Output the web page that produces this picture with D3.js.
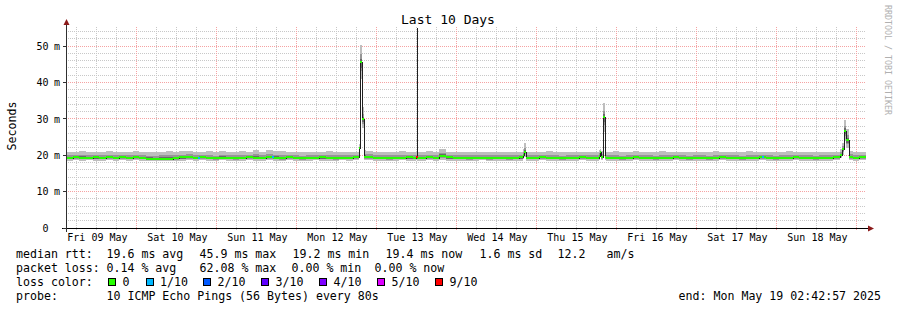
<!DOCTYPE html>
<html lang="en">
<head>
<meta charset="UTF-8">
<title>Last 10 Days</title>
<script src="https://d3js.org/d3.v7.min.js"></script>
<style>
  body { margin: 0; background: #fff; }
  svg { display: block; font-family: "DejaVu Sans Mono", monospace; }
</style>
</head>
<body>
<svg id="chart" width="897" height="310"></svg>
<script>
// graph covers 10 days ending Mon May 19 02:42:57 2025
const startTime = Date.UTC(2025, 4, 9, 2, 42, 57);
const spanHours = 240;

// each segment starts at segStart (hours after startTime) and runs to the next one
const segStart = [0,2,4,6,8,10,12,14,16,18,20,22,24,26,28,30,32,34,36,38,40,42,44,46,48,50,52,54,56,58,60,62,64,66,68,70,72,74,76,78,80,82,84,86,
  87.9,88.2,88.9,89.4,
  90,92,94,96,98,100,102,104,
  105.0,105.3,105.4,
  106,108,110,112,114,116,118,120,122,124,126,128,130,132,134,136,
  137.1,137.4,
  138,140,142,144,146,148,150,152,154,156,158,
  159.8,160.1,160.5,161.0,161.6,
  162,164,166,168,170,172,174,176,178,180,182,184,186,188,190,192,194,196,198,200,202,204,206,208,210,212,214,216,218,220,222,224,226,228,230,
  231.6,232.1,232.7,233.3,233.9,234.8,236,238];

// median rtt in ms
const rttMedian = [19.3,19.4,19.3,19.3,19.4,19.3,19.4,19.3,19.5,19.3,19.4,19.3,
  19.1,19.0,19.1,19.0,19.2,19.4,19.5,19.3,19.4,19.3,19.2,19.3,
  19.3,19.2,19.3,19.4,19.3,19.3,19.4,19.3,19.2,19.4,19.3,19.2,
  19.3,19.3,19.4,19.3,19.2,19.3,19.3,19.4,
  21.9,45.7,29.9,19.6,
  19.5,19.3,19.3,19.2,19.3,19.3,19.4,19.3,
  19.4,80,19.3,
  19.3,19.4,19.3,19.9,19.4,19.3,19.3,19.2,19.3,19.3,19.2,19.3,19.3,19.2,19.3,19.4,
  20.1,21.0,
  19.3,19.3,19.4,19.3,19.3,19.2,19.3,19.3,19.4,19.3,19.3,
  19.9,20.8,19.6,30.6,19.5,
  19.3,19.3,19.2,19.3,19.4,19.3,19.3,19.2,19.3,19.3,19.4,19.3,
  19.2,19.3,19.3,19.2,19.3,19.4,19.3,19.3,19.2,19.3,19.3,19.4,
  19.3,19.2,19.3,19.3,19.4,19.3,19.3,19.2,19.3,19.3,19.4,
  19.5,20.2,21.7,26.8,24.2,19.5,19.3,19.4];

// fastest ping of the segment, ms
const rttLow = [18.5,18.6,18.5,18.6,18.5,18.5,18.6,18.5,18.6,18.5,18.6,18.5,
  18.4,18.3,18.4,18.3,18.4,18.5,18.6,18.5,18.6,18.5,18.5,18.6,
  18.5,18.4,18.5,18.6,18.5,18.5,18.6,18.5,18.4,18.6,18.5,18.5,
  18.5,18.6,18.5,18.5,18.5,18.6,18.5,18.6,
  19.2,41.0,27.5,18.7,
  18.6,18.5,18.5,18.4,18.5,18.6,18.5,18.5,
  18.6,80,18.5,
  18.5,18.6,18.5,18.8,18.5,18.5,18.5,18.5,18.5,18.6,18.5,18.5,18.5,18.4,18.5,18.5,
  19.0,19.6,
  18.5,18.5,18.6,18.5,18.5,18.4,18.5,18.5,18.6,18.5,18.5,
  18.8,19.4,18.7,26.5,18.6,
  18.5,18.5,18.4,18.5,18.6,18.5,18.5,18.4,18.5,18.5,18.6,18.5,
  18.4,18.5,18.5,18.4,18.5,18.6,18.5,18.5,18.4,18.5,18.5,18.6,
  18.5,18.4,18.5,18.5,18.6,18.5,18.5,18.4,18.5,18.5,18.6,
  18.6,19.2,20.0,24.0,22.0,18.6,18.5,18.6];

// slowest ping of the segment, ms
const rttHigh = [20.9,21.0,21.3,20.9,21.0,20.8,21.1,20.9,21.0,20.8,21.2,20.9,
  20.8,20.9,21.0,21.2,20.9,21.1,21.3,21.0,20.9,21.1,20.8,21.2,
  20.9,21.0,21.1,20.9,21.4,21.0,21.5,21.2,21.1,20.9,21.0,20.8,
  20.9,21.0,20.9,21.1,20.9,21.0,20.9,21.0,
  23.0,50.2,33.3,21.4,
  21.2,21.0,20.9,21.0,20.9,21.1,20.9,21.0,
  20.8,80,21.0,
  20.9,21.1,21.0,21.7,21.0,20.9,20.8,20.9,21.0,20.9,21.0,20.8,20.9,21.0,20.9,21.0,
  21.8,23.5,
  20.9,21.0,20.9,21.1,20.9,20.8,21.0,20.9,21.0,20.8,21.0,
  21.4,21.8,21.2,34.4,21.0,
  20.9,21.1,20.8,21.0,21.1,20.9,21.0,20.8,21.1,20.9,21.0,20.9,
  20.8,21.0,20.9,20.8,21.1,21.0,20.9,21.0,20.8,21.1,20.9,21.0,
  20.9,20.8,21.0,21.1,20.9,21.0,20.9,20.8,21.0,20.9,21.0,
  21.0,21.6,23.5,29.7,27.2,21.1,20.9,21.0];

// moments with packet loss (hours after start) and their loss class
const lossAt = [39.6, 61.8, 105.0, 208.8];
const lossLevel = ["1/10", "1/10", "9/10", "1/10"];

const lossLabels = ["0", "1/10", "2/10", "3/10", "4/10", "5/10", "9/10"];
const lossColors = ["#26ff00", "#00b8ff", "#0059ff", "#5e00ff", "#7e00ff", "#dd00ff", "#ff0000"];

const yTicks = [0, 10, 20, 30, 40, 50];

const rttStats = ["19.6 ms avg", "45.9 ms max", "19.2 ms min", "19.4 ms now", "1.6 ms sd", "12.2", "am/s"];
const lossStats = ["0.14 % avg", "62.08 % max", "0.00 % min", "0.00 % now"];
const probeText = "10 ICMP Echo Pings (56 Bytes) every 80s";
const endText = "end: Mon May 19 02:42:57 2025";

// layout
const rttStatX = [107, 200, 293, 386, 480, 558, 607];
const lossStatX = [107, 200, 292, 375];
const swatchX = [108, 146, 203, 261, 319, 377, 435];
const swatchLabelX = [123, 160.5, 218, 276, 334, 392, 450];

const svg = d3.select("#chart");
const hour = h => new Date(startTime + h * 3600e3);

const x = d3.scaleUtc().domain([hour(0), hour(spanHours)]).range([66, 866]);
const y = d3.scaleLinear().domain([0, 55]).range([228, 28]);
const crisp = v => Math.floor(v) + 0.5;

const segs = segStart.map((h, i) => ({
    t0: hour(h),
    t1: hour(i + 1 < segStart.length ? segStart[i + 1] : spanHours),
    med: rttMedian[i],
    lo: rttLow[i],
    hi: rttHigh[i]
}));

svg.append("rect").attr("width", 897).attr("height", 310).attr("fill", "#fff");

svg.append("defs").append("clipPath").attr("id", "clip")
    .append("rect").attr("x", 66).attr("y", 28).attr("width", 800).attr("height", 200);

// grid
const grid = svg.append("g").attr("fill", "none").attr("stroke-dasharray", "1,1");
const minorY = y.ticks(28).filter(v => v % 10 !== 0);
const minorX = x.ticks(d3.utcHour.every(6)).filter(d => d.getUTCHours() !== 0);
const majorX = x.ticks(d3.utcDay.every(1));

grid.selectAll(".hminor").data(minorY).join("line")
    .attr("x1", 66).attr("x2", 866)
    .attr("y1", d => crisp(y(d))).attr("y2", d => crisp(y(d)))
    .attr("stroke", "#c8c8c8");
grid.selectAll(".vminor").data(minorX).join("line")
    .attr("x1", d => crisp(x(d))).attr("x2", d => crisp(x(d)))
    .attr("y1", 27).attr("y2", 231)
    .attr("stroke", "#c8c8c8");
grid.selectAll(".hmajor").data(yTicks.filter(v => v > 0)).join("line")
    .attr("x1", 66).attr("x2", 866)
    .attr("y1", d => crisp(y(d))).attr("y2", d => crisp(y(d)))
    .attr("stroke", "#f5a3a3");
grid.selectAll(".vmajor").data(majorX).join("line")
    .attr("x1", d => crisp(x(d))).attr("x2", d => crisp(x(d)))
    .attr("y1", 27).attr("y2", 231)
    .attr("stroke", "#f5a3a3");

// smoke, median line and loss-coloured median
const plot = svg.append("g").attr("clip-path", "url(#clip)").attr("shape-rendering", "crispEdges");
const sx0 = s => Math.round(x(s.t0));
const sw = s => Math.max(1, Math.round(x(s.t1)) - Math.round(x(s.t0)));

const bands = [
    { fill: "#bebebe", lo: s => s.lo, hi: s => s.hi },
    { fill: "#969696", lo: s => s.med - (s.med - s.lo) * 0.55, hi: s => s.med + (s.hi - s.med) * 0.45 },
    { fill: "#6a6a6a", lo: s => s.med - (s.med - s.lo) * 0.35, hi: s => s.med + (s.hi - s.med) * 0.2 }
];
bands.forEach(b => {
    plot.append("g").selectAll("rect").data(segs).join("rect")
        .attr("x", sx0).attr("width", sw)
        .attr("y", s => y(b.hi(s)))
        .attr("height", s => Math.max(0, y(b.lo(s)) - y(b.hi(s))))
        .attr("fill", b.fill);
});

const linePts = segs.map(s => [Math.round(x(s.t0)) + 0.5, Math.round(y(s.med)) + 0.5]);
linePts.push([866, Math.round(y(segs[segs.length - 1].med)) + 0.5]);
plot.append("path")
    .attr("d", d3.line().curve(d3.curveStepAfter)(linePts))
    .attr("fill", "none").attr("stroke", "#202020").attr("stroke-width", 1);

plot.append("g").selectAll("rect").data(segs).join("rect")
    .attr("x", sx0).attr("width", sw)
    .attr("y", s => Math.round(y(s.med)) - 1).attr("height", 2)
    .attr("fill", lossColors[0]);

const medianAt = h => segs[d3.bisectRight(segStart, h) - 1].med;
plot.append("g").selectAll("rect").data(lossAt).join("rect")
    .attr("x", h => Math.round(x(hour(h)))).attr("width", 2)
    .attr("y", h => Math.round(y(medianAt(h))) - 1).attr("height", 2)
    .attr("fill", (h, i) => lossColors[lossLabels.indexOf(lossLevel[i])]);

// axes
svg.append("line").attr("x1", 62).attr("x2", 869).attr("y1", 228.5).attr("y2", 228.5).attr("stroke", "#000");
svg.append("line").attr("x1", 66.5).attr("x2", 66.5).attr("y1", 232).attr("y2", 24).attr("stroke", "#303030");
svg.append("path").attr("d", "M63.5,25 L66.5,19 L69.5,25 Z").attr("fill", "#8b1a1a");
svg.append("path").attr("d", "M868,225.5 L874,228.5 L868,231.5 Z").attr("fill", "#8b1a1a");

svg.append("g").selectAll("line").data(yTicks).join("line")
    .attr("x1", 63).attr("x2", 66)
    .attr("y1", d => crisp(y(d))).attr("y2", d => crisp(y(d)))
    .attr("stroke", "#303030");

const yLab = svg.append("g").attr("font-size", "10px").attr("fill", "#000");
yLab.selectAll(".num").data(yTicks).join("text")
    .attr("x", 48.5).attr("y", d => y(d) + 3.7)
    .attr("text-anchor", "end").text(d => d);
yLab.selectAll(".unit").data(yTicks.filter(v => v > 0)).join("text")
    .attr("x", 54).attr("y", d => y(d) + 3.7)
    .text("m");

const noons = x.ticks(d3.utcHour.every(12)).filter(d => d.getUTCHours() === 12);
svg.append("g").attr("font-size", "10px").selectAll("text").data(noons).join("text")
    .attr("x", d => x(d) + 0.5).attr("y", 241)
    .attr("text-anchor", "middle")
    .text(d => d3.utcFormat("%a %d %b")(d));

// titles
svg.append("text").attr("x", 448).attr("y", 24).attr("text-anchor", "middle")
    .attr("font-size", "13px").text("Last 10 Days");
svg.append("text").attr("transform", "translate(15.5,126) rotate(-90)")
    .attr("text-anchor", "middle").attr("font-size", "11.6px").text("Seconds");
svg.append("text").attr("transform", "translate(884.5,5) rotate(90)")
    .attr("font-size", "8.3px").attr("fill", "#b0b0b0").text("RRDTOOL / TOBI OETIKER");

// legend
const legend = svg.append("g").attr("font-size", "11.6px").attr("fill", "#000")
    .attr("style", "white-space: pre");
legend.append("text").attr("x", 16).attr("y", 258).text("median rtt:");
rttStats.forEach((t, i) => legend.append("text").attr("x", rttStatX[i] - 0.5).attr("y", 258).text(t));
legend.append("text").attr("x", 16).attr("y", 272).text("packet loss:");
lossStats.forEach((t, i) => legend.append("text").attr("x", lossStatX[i] - 0.5).attr("y", 272).text(t));
legend.append("text").attr("x", 16).attr("y", 286).text("loss color:");
lossLabels.forEach((t, i) => {
    legend.append("rect").attr("x", swatchX[i] + 0.5).attr("y", 278.5)
        .attr("width", 7).attr("height", 7)
        .attr("fill", lossColors[i]).attr("stroke", "#000");
    legend.append("text").attr("x", swatchLabelX[i] - 0.5).attr("y", 286).text(t);
});
legend.append("text").attr("x", 16).attr("y", 300).text("probe:");
legend.append("text").attr("x", 106.5).attr("y", 300).text(probeText);
legend.append("text").attr("x", 881).attr("y", 300).attr("text-anchor", "end").text(endText);
</script>
</body>
</html>
